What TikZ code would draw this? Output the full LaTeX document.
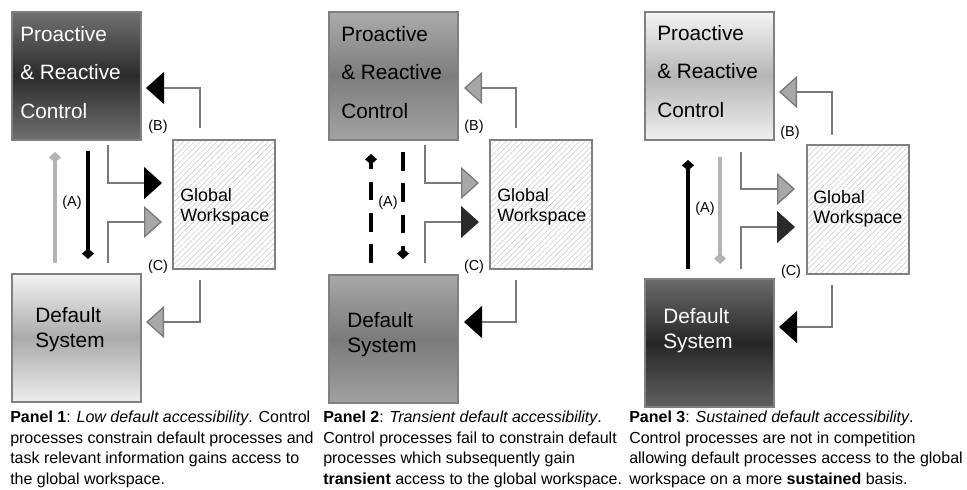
\documentclass[tikz,border=0pt]{standalone}
\usepackage{fontspec}
\setmainfont{Liberation Sans}
\usetikzlibrary{arrows.meta,calc,patterns.meta}
\definecolor{boxline}{HTML}{808080}
\definecolor{connline}{HTML}{7A7A7A}
\definecolor{hatch}{HTML}{CFCFCF}
\definecolor{headgray}{HTML}{A8A8A8}
\definecolor{headedge}{HTML}{7A7A7A}
\definecolor{headdark}{HTML}{2A2A2A}
\definecolor{agraycol}{HTML}{B4B4B4}
\tikzset{
  boxs/.style={draw=boxline, line width=0.8pt, minimum width=96.75pt, minimum height=96pt,
    inner sep=0pt, outer sep=0pt, anchor=north west},
  gws/.style={draw=boxline, line width=0.8pt, minimum width=76.5pt, minimum height=96.75pt,
    inner sep=0pt, outer sep=0pt, anchor=north west,
    pattern={Lines[angle=45,distance=3pt,line width=0.5pt]}, pattern color=hatch},
  ctxt/.style={anchor=north west, inner sep=0pt, align=left,
    font=\fontsize{15.6pt}{28.8pt}\selectfont},
  dtxt/.style={anchor=north west, inner sep=0pt, align=left,
    font=\fontsize{15.6pt}{18.75pt}\selectfont},
  gtxt/.style={anchor=north west, inner sep=0pt, align=left,
    font=\fontsize{13.4pt}{15pt}\selectfont},
  lab/.style={inner sep=0pt, font=\fontsize{10.8pt}{13pt}\selectfont},
  capt/.style={anchor=north west, inner sep=0pt, align=left,
    font=\fontsize{12pt}{15.4pt}\selectfont},
  conn/.style={draw=connline, line width=1pt},
  hb/.style={conn, -{Triangle[length=13.5pt,width=24pt,fill=black,color=black]}},
  hg/.style={conn, -{Triangle[length=13.5pt,width=24pt,fill=headgray,color=headedge]}},
  hd/.style={conn, -{Triangle[length=13.5pt,width=24pt,fill=headdark,color=headdark]}},
  ablack/.style={line width=2.4pt, draw=black, -{Diamond[length=8pt,width=9pt,fill=black,color=black]}},
  agray/.style={line width=2.4pt, draw=agraycol, -{Diamond[length=8pt,width=9pt,fill=agraycol,color=agraycol]}},
  dashpat/.style={dash pattern=on 14pt off 9.5pt}
}
\begin{document}
\begin{tikzpicture}[x=0.75pt,y=-0.75pt]
\useasboundingbox (0,0) rectangle (967,489);

% ---------------- Panel 1 ----------------
\node[boxs, top color=black!56, bottom color=black!56, middle color=black!83] (ctl1) at (12,12) {};
\node[gws] (gw1) at (173,140) {};
\node[boxs, top color=black!5, bottom color=black!7, middle color=black!33] (def1) at (12,274) {};
\node[ctxt, text=white] (ctl1t) at (20,26) {Proactive\\\& Reactive\\Control};
\node[gtxt] (gw1t) at (180,188) {Global\\Workspace};
\node[dtxt] (def1t) at (35,307) {Default\\System};

\draw[hb] ($(gw1.north west)+(27,-12)$) |- ($(ctl1.north east)+(5,76)$);
\draw[hb] ($(ctl1.south west)+(96,5)$) |- ($(gw1.north west)+(-11,43)$);
\draw[hg] ($(def1.north west)+(96,-11)$) |- ($(gw1.north west)+(-11,82)$);
\draw[hg] ($(gw1.south west)+(27,11)$) |- ($(def1.north east)+(5,48)$);
\draw[agray] ($(def1.north west)+(43,-11)$) -- ($(ctl1.south west)+(43,12)$);
\draw[ablack] ($(ctl1.south west)+(76,11)$) -- ($(def1.north west)+(76,-15)$);

\node[lab] (labB1) at (158,127) {(B)};
\node[lab] (labC1) at (158,267) {(C)};
\node[lab] (labA1) at (72,203) {(A)};

% ---------------- Panel 2 ----------------
\node[boxs, top color=black!33, bottom color=black!36, middle color=black!51] (ctl2) at (329,12) {};
\node[gws] (gw2) at (490,140) {};
\node[boxs, top color=black!34, bottom color=black!37, middle color=black!52] (def2) at (329,275) {};
\node[ctxt] (ctl2t) at (341,26) {Proactive\\\& Reactive\\Control};
\node[gtxt] (gw2t) at (497,188) {Global\\Workspace};
\node[dtxt] (def2t) at (347,312.5) {Default\\System};

\draw[hg] ($(gw2.north west)+(26,-12)$) |- ($(ctl2.north east)+(6,76)$);
\draw[hg] ($(ctl2.south west)+(96,5)$) |- ($(gw2.north west)+(-11,43)$);
\draw[hd] ($(def2.north west)+(96,-12)$) |- ($(gw2.north west)+(-11,82)$);
\draw[hb] ($(gw2.south west)+(26,11)$) |- ($(def2.north east)+(6,47)$);
\draw[ablack, dashpat] ($(def2.north west)+(42,-12)$) -- ($(ctl2.south west)+(42,14)$);
\draw[ablack, dashpat] ($(ctl2.south west)+(74,12)$) -- ($(def2.north west)+(74,-16)$);

\node[lab] (labB2) at (474,127) {(B)};
\node[lab] (labC2) at (474,267) {(C)};
\node[lab] (labA2) at (388,203) {(A)};

% ---------------- Panel 3 ----------------
\node[boxs, top color=black!4, bottom color=black!6, middle color=black!29] (ctl3) at (645,12) {};
\node[gws] (gw3) at (807,145) {};
\node[boxs, top color=black!58, bottom color=black!62, middle color=black!85] (def3) at (645,279) {};
\node[ctxt] (ctl3t) at (657,25) {Proactive\\\& Reactive\\Control};
\node[gtxt] (gw3t) at (813,190) {Global\\Workspace};
\node[dtxt, text=white] (def3t) at (663,308) {Default\\System};

\draw[hg] ($(gw3.north west)+(25,-10)$) |- ($(ctl3.north east)+(5,80)$);
\draw[hg] ($(ctl3.south west)+(96,12)$) |- ($(gw3.north west)+(-12,44)$);
\draw[hd] ($(def3.north west)+(96,-10)$) |- ($(gw3.north west)+(-12,82)$);
\draw[hb] ($(gw3.south west)+(25,11)$) |- ($(def3.north east)+(5,48)$);
\draw[ablack] ($(def3.north west)+(43,-10)$) -- ($(ctl3.south west)+(43,20)$);
\draw[agray] ($(ctl3.south west)+(75,17)$) -- ($(def3.north west)+(75,-15)$);

\node[lab] (labB3) at (790,133) {(B)};
\node[lab] (labC3) at (791,272) {(C)};
\node[lab] (labA3) at (705,209) {(A)};

% ---------------- Captions ----------------
\node[capt] (cap1) at (10,411) {\textbf{Panel 1}: \textit{Low default accessibility}. Control\\processes constrain default processes and\\task relevant information gains access to\\the global workspace.};
\node[capt] (cap2) at (323,411) {\textbf{Panel 2}: \textit{Transient default accessibility}.\\Control processes fail to constrain default\\processes which subsequently gain\\\textbf{transient} access to the global workspace.};
\node[capt] (cap3) at (629,411) {\textbf{Panel 3}: \textit{Sustained default accessibility}.\\Control processes are not in competition\\allowing default processes access to the global\\workspace on a more \textbf{sustained} basis.};
\end{tikzpicture}
\end{document}
